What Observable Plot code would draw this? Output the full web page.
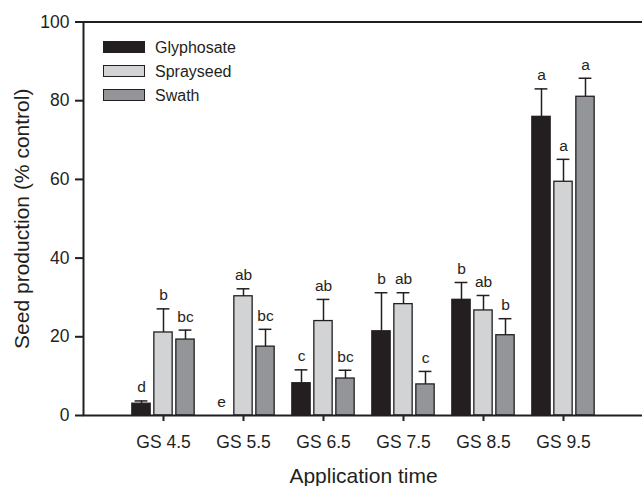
<!DOCTYPE html>
<html>
<head>
<meta charset="utf-8">
<script src="https://cdn.jsdelivr.net/npm/d3@7"></script>
<script src="https://cdn.jsdelivr.net/npm/@observablehq/plot@0.6"></script>
<style>
  body { margin: 0; background: #fff; }
  #wrap { position: relative; width: 642px; height: 486px; font-family: "Liberation Sans", Arial, Helvetica, sans-serif; color: #231f20; }
  .legend { position: absolute; left: 103px; top: 35px; font-size: 16px; }
  .row { display: flex; align-items: center; height: 24px; }
  .sw { width: 42px; height: 12.5px; box-sizing: border-box; border: 1.4px solid #231f20; }
  .lab { margin-left: 10px; padding-top: 2px; }
</style>
</head>
<body>
<div id="wrap"></div>
<script>
// ---- data ----
const stages = [4.5, 5.5, 6.5, 7.5, 8.5, 9.5];
const series = ["Glyphosate", "Sprayseed", "Swath"];
const seriesColors = ["#231f20", "#d1d3d4", "#939598"];

const glyphosate    = [3.0, 0, 8.2, 21.4, 29.4, 75.9];
const glyphosateErr = [0.7, 0, 3.4, 9.8, 4.4, 7.1];
const glyphosateLet = ["d", "e", "c", "b", "b", "a"];

const sprayseed     = [21.1, 30.3, 24.0, 28.3, 26.7, 59.4];
const sprayseedErr  = [6.0, 1.9, 5.5, 2.9, 3.8, 5.7];
const sprayseedLet  = ["b", "ab", "ab", "ab", "ab", "a"];

const swath         = [19.3, 17.5, 9.4, 7.9, 20.4, 81.0];
const swathErr      = [2.4, 4.4, 2.1, 3.3, 4.2, 4.7];
const swathLet      = ["bc", "bc", "bc", "c", "b", "a"];

const yTicks = [0, 20, 40, 60, 80, 100];
const xTitle = "Application time";
const yTitle = "Seed production (% control)";

// ---- build table ----
const values = [glyphosate, sprayseed, swath];
const errs = [glyphosateErr, sprayseedErr, swathErr];
const lets = [glyphosateLet, sprayseedLet, swathLet];
const rows = [];
series.forEach((s, si) => stages.forEach((g, gi) => rows.push({
  stage: g, series: s, si, value: values[si][gi], err: errs[si][gi], letter: lets[si][gi]
})));
const bars = rows.filter(d => d.value > 0);

const barStep = 0.275, barHalf = 0.1145, capHalf = 0.08;
const cx = d => d.stage + (d.si - 1) * barStep;
const ink = "#231f20";

const chart = Plot.plot({
  width: 642, height: 486,
  marginLeft: 83, marginRight: -1, marginTop: 21.5, marginBottom: 71,
  style: { fontFamily: '"Liberation Sans", Arial, Helvetica, sans-serif', background: "white", color: ink, overflow: "visible" },
  x: { domain: [3.5, 10.5] },
  y: { domain: [0, 100] },
  color: { domain: series, range: seriesColors },
  marks: [
    Plot.rectY(bars, { x1: d => cx(d) - barHalf, x2: d => cx(d) + barHalf, y1: 0, y2: "value", fill: "series", stroke: ink, strokeWidth: 1.3 }),
    Plot.ruleX(bars, { x: cx, y1: "value", y2: d => d.value + d.err, stroke: ink, strokeWidth: 1.5 }),
    Plot.ruleY(bars, { y: d => d.value + d.err, x1: d => cx(d) - capHalf, x2: d => cx(d) + capHalf, stroke: ink, strokeWidth: 1.5 }),
    Plot.text(rows, { x: cx, y: d => d.value + d.err, text: "letter", lineAnchor: "bottom", dy: -8.5, fontSize: 15.5, fill: ink }),
    Plot.frame({ stroke: ink, strokeWidth: 2 }),
    Plot.axisX({ ticks: stages, tickFormat: d => `GS ${d.toFixed(1)}`, tickSize: 6, tickPadding: 14, strokeWidth: 2, fontSize: 17.5, fill: ink, label: null }),
    Plot.axisY({ ticks: yTicks, tickSize: 8, tickPadding: 6, strokeWidth: 2, fontSize: 17.5, fill: ink, label: null }),
    Plot.text([xTitle], { text: d => d, frameAnchor: "bottom", dy: 60.5, lineAnchor: "middle", textAnchor: "middle", fontSize: 21, fill: ink }),
    Plot.text([yTitle], { text: d => d, frameAnchor: "left", rotate: -90, dx: -61, lineAnchor: "middle", textAnchor: "middle", fontSize: 21, fill: ink })
  ]
});

const wrap = document.getElementById("wrap");
wrap.appendChild(chart);

const legend = document.createElement("div");
legend.className = "legend";
series.forEach((s, i) => {
  const row = document.createElement("div");
  row.className = "row";
  const sw = document.createElement("div");
  sw.className = "sw";
  sw.style.background = seriesColors[i];
  const lab = document.createElement("span");
  lab.className = "lab";
  lab.textContent = s;
  row.appendChild(sw); row.appendChild(lab);
  legend.appendChild(row);
});
wrap.appendChild(legend);
</script>
</body>
</html>
